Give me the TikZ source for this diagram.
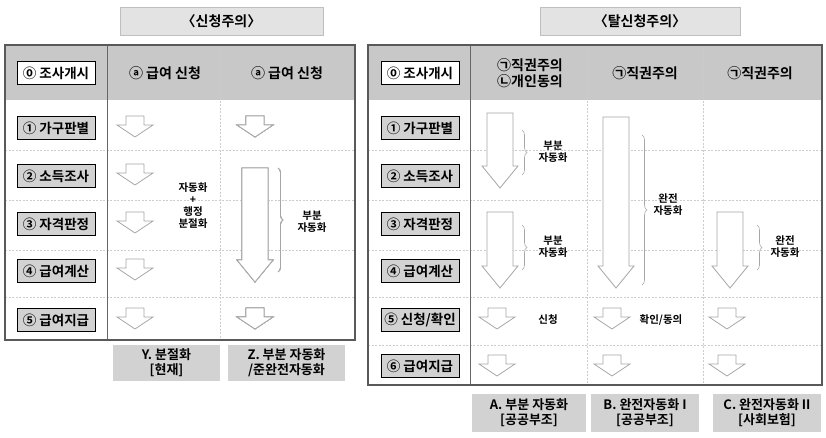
\documentclass[tikz,border=0pt]{standalone}
\usepackage{fontspec}
\setmainfont{Noto Sans CJK KR}[BoldFont={Noto Sans CJK KR Bold}]
\usetikzlibrary{decorations.pathreplacing}
\definecolor{hdr}{HTML}{C8C8C8}
\definecolor{bx}{HTML}{D2D2D2}
\tikzset{
 lbl/.style={draw=black,line width=0.9pt,minimum width=78pt,minimum height=23pt,inner sep=1pt,font=\bfseries\fontsize{13.5}{15}\selectfont},
 glbl/.style={lbl,fill=bx},
 hd/.style={font=\bfseries\fontsize{14}{16}\selectfont,align=left},
 arr/.style={draw=gray!70,line width=0.8pt,fill=white,line join=miter},
 grid/.style={gray!40,dash pattern=on 2pt off 1.5pt,line width=0.5pt},
 brc/.style={draw=gray!70,line width=0.6pt,decorate,decoration={brace,amplitude=5pt}},
 note/.style={font=\bfseries\fontsize{10.5}{12}\selectfont,align=center},
 bot/.style={fill=bx,font=\bfseries\fontsize{13}{15}\selectfont,align=center,inner sep=2pt},
 ttl/.style={fill=gray!22,draw=gray!50,font=\bfseries\fontsize{14}{16}\selectfont}
}
% x, ytop, ybot, shaft half, head half, head length
\newcommand\barrow[6]{\draw[arr] ({#1-#4},#2) -- ({#1+#4},#2) -- ({#1+#4},{#3-#6}) -- ({#1+#5},{#3-#6}) -- (#1,#3) -- ({#1-#5},{#3-#6}) -- ({#1-#4},{#3-#6}) -- cycle;}
\newcommand\sarrow[2]{\barrow{#1}{#2-10}{#2+11}{9}{18}{12}}
\begin{document}
\begin{tikzpicture}[x=1pt,y=-1pt]
\useasboundingbox (0,0) rectangle (826,438);
% ===== left
\node[ttl,minimum width=203pt,minimum height=28pt] (t1) at (221.5,21) {〈신청주의〉};
\fill[hdr] (5,45) rectangle (355,100);
\foreach \y in {150,200,250,297} \draw[grid] (5,\y) -- (355,\y);
\draw[grid] (220,45) -- (220,340);
\draw[gray!80!black,line width=0.9pt] (107,45) -- (107,340);
\draw[gray!70!black,line width=1.3pt] (5,45) rectangle (355,340);
\node[lbl,fill=white] (l0) at (56,73) {⓪ 조사개시};
\node[glbl] (l1) at (56,128) {① 가구판별};
\node[glbl] (l2) at (56,176) {② 소득조사};
\node[glbl] (l3) at (56,224) {③ 자격판정};
\node[glbl] (l4) at (56,271) {④ 급여계산};
\node[glbl] (l5) at (56,320) {⑤ 급여지급};
\node[hd] (h1) at (165,73) {ⓐ 급여 신청};
\node[hd] (h2) at (287,73) {ⓐ 급여 신청};
\foreach \y in {126,174,222,269,318} \sarrow{135}{\y}
\sarrow{255}{126}\sarrow{255}{318}
\barrow{255}{168}{282}{13}{18}{22}
\draw[brc] (278,168) -- (278,272);
\node[note] (n1) at (193,206) {자동화\\+\\행정\\분절화};
\node[note] (n2) at (312,222) {부분\\자동화};
\node[bot,minimum width=107pt,minimum height=36pt] (Y) at (166.5,363) {Y. 분절화\\{[}현재{]}};
\node[bot,minimum width=117pt,minimum height=36pt] (Z) at (286.5,363) {Z. 부분 자동화\\/준완전자동화};
% ===== right
\node[ttl,minimum width=200pt,minimum height=28pt] (t2) at (640,21) {〈탈신청주의〉};
\fill[hdr] (368,45) rectangle (822,100);
\foreach \y in {150,200,250,297,345} \draw[grid] (368,\y) -- (822,\y);
\draw[grid] (587,45) -- (587,385);
\draw[grid] (703,45) -- (703,385);
\draw[gray!80!black,line width=0.9pt] (470,45) -- (470,385);
\draw[gray!70!black,line width=1.3pt] (368,45) rectangle (822,385);
\node[lbl,fill=white] (r0) at (420,73) {⓪ 조사개시};
\node[glbl] (r1) at (420,128) {① 가구판별};
\node[glbl] (r2) at (420,176) {② 소득조사};
\node[glbl] (r3) at (420,224) {③ 자격판정};
\node[glbl] (r4) at (420,271) {④ 급여계산};
\node[glbl] (r5) at (420,320) {⑤ 신청/확인};
\node[glbl] (r6) at (420,366) {⑥ 급여지급};
\node[hd] (h3) at (530,73) {㉠직권주의\\㉡개인동의};
\node[hd] (h4) at (645,73) {㉠직권주의};
\node[hd] (h5) at (760,73) {㉠직권주의};
\barrow{500}{113}{188}{13}{18}{22}
\barrow{500}{212}{288}{13}{18}{22}
\barrow{616}{117}{288}{13}{18}{22}
\barrow{730}{212}{288}{13}{18}{22}
\draw[brc] (522,130) -- (522,175);
\draw[brc] (522,225) -- (522,270);
\draw[brc] (642,135) -- (642,285);
\draw[brc] (757,225) -- (757,270);
\node[note] (n3) at (553,152) {부분\\자동화};
\node[note] (n4) at (553,247) {부분\\자동화};
\node[note] (n5) at (668,205) {완전\\자동화};
\node[note] (n6) at (785,247) {완전\\자동화};
\foreach \x in {497,612,727} {\sarrow{\x}{318}\sarrow{\x}{365}}
\node[note] (s1) at (548,320) {신청};
\node[note] (s2) at (661,320) {확인/동의};
\node[bot,minimum width=114pt,minimum height=38pt] (A) at (529,413) {A. 부분 자동화\\{[}공공부조{]}};
\node[bot,minimum width=108pt,minimum height=38pt] (B) at (645,413) {B. 완전자동화 I\\{[}공공부조{]}};
\node[bot,minimum width=108pt,minimum height=38pt] (C) at (767,413) {C. 완전자동화 II\\{[}사회보험{]}};
\end{tikzpicture}
\end{document}
